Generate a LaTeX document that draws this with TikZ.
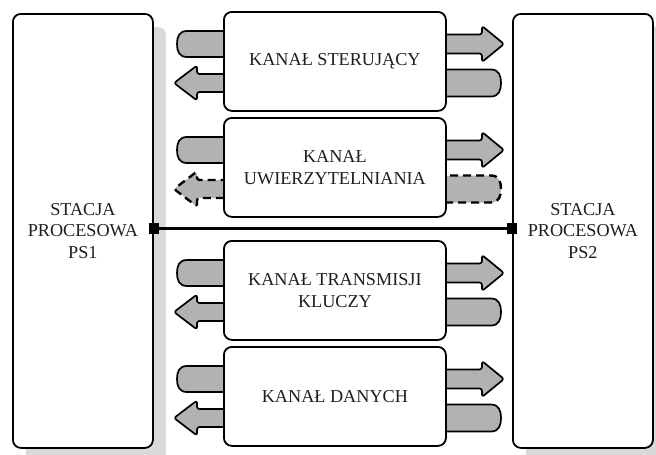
\documentclass[tikz,border=0pt]{standalone}
\usepackage{fontspec}
\setmainfont{Liberation Serif}
\usetikzlibrary{calc,shadows}
\definecolor{shadegray}{RGB}{217,217,217}
\definecolor{bodygray}{RGB}{178,178,178}
\definecolor{inkgray}{RGB}{30,30,30}
\begin{document}
\begin{tikzpicture}[x=1pt,y=-1pt,
  labelfont/.style={font=\fontsize{18.2}{21.5}\selectfont, text=inkgray},
  roundbox/.style={draw, line width=1.8pt, rounded corners=8pt, fill=white,
    anchor=north west, align=center, inner sep=0pt, labelfont},
  station/.style={roundbox, minimum width=140pt, minimum height=434pt,
    drop shadow={shadow xshift=13pt, shadow yshift=-13pt, fill=shadegray, opacity=1}},
  channel/.style={roundbox, minimum width=222pt, minimum height=99pt},
  arrowbody/.style={draw=black, fill=bodygray, line width=1.7pt, line join=round},
  dashbody/.style={arrowbody, line width=2.4pt, dash pattern=on 8pt off 5pt},
  endpoint/.style={fill=black, minimum size=10.5pt, inner sep=0pt},
  link/.style={line width=3.2pt},
  % rounded tail sticking out to the left of a channel
  tailL/.pic={\path[#1] (8,-13) -- (-36,-13) .. controls (-44,-13) and (-46,-7) .. (-46,0)
      .. controls (-46,7) and (-44,13) .. (-36,13) -- (8,13) -- cycle;},
  % rounded tail sticking out to the right of a channel
  tailR/.pic={\path[#1] (-8,-13.5) -- (46,-13.5) .. controls (54,-13.5) and (56,-7) .. (56,0)
      .. controls (56,7) and (54,13.5) .. (46,13.5) -- (-8,13.5) -- cycle;},
  % block arrow pointing left
  arrowL/.pic={\path[#1, rounded corners=2.5pt] (8,-9) -- (-26,-9) -- (-26,-17.5) -- (-49,0)
      -- (-26,17.5) -- (-26,9) -- (8,9) -- cycle;},
  % block arrow pointing right
  arrowR/.pic={\path[#1, rounded corners=2.5pt] (-8,-9.5) -- (37,-9.5) -- (37,-18) -- (59,0)
      -- (37,18) -- (37,9.5) -- (-8,9.5) -- cycle;},
]
\useasboundingbox (0,0) rectangle (656,455);
\clip (0,0) rectangle (656,455);

% processing stations
\node[station] (s1) at (12,13) {STACJA\\PROCESOWA\\PS1};
\node[station] (s2) at (512,13) {STACJA\\PROCESOWA\\PS2};

% channel anchor points
\coordinate (c1) at (223,11);
\coordinate (c2) at (223,117);
\coordinate (c3) at (223,240);
\coordinate (c4) at (223,346);
\coordinate (e1) at (445,11);
\coordinate (e2) at (445,117);
\coordinate (e3) at (445,240);
\coordinate (e4) at (445,346);

% block arrows (drawn below the channel boxes)
\foreach \c/\e in {c1/e1,c3/e3,c4/e4}{
  \pic at ($(\c)+(0,33)$) {tailL=arrowbody};
  \pic at ($(\c)+(0,72)$) {arrowL=arrowbody};
  \pic at ($(\e)+(0,33)$) {arrowR=arrowbody};
  \pic at ($(\e)+(0,72)$) {tailR=arrowbody};
}
\pic at ($(c2)+(0,33)$) {tailL=arrowbody};
\pic at ($(c2)+(0,72)$) {arrowL=dashbody};
\pic at ($(e2)+(0,33)$) {arrowR=arrowbody};
\pic at ($(e2)+(0,72)$) {tailR=dashbody};

% channels
\node[channel] (k1) at (c1) {KANAŁ STERUJĄCY};
\node[channel] (k2) at (c2) {KANAŁ\\UWIERZYTELNIANIA};
\node[channel] (k3) at (c3) {KANAŁ TRANSMISJI\\KLUCZY};
\node[channel] (k4) at (c4) {KANAŁ DANYCH};

% link between the stations
\node[endpoint] (p1) at (s1.east |- 0,228.5) {};
\node[endpoint] (p2) at (s2.west |- 0,228.5) {};
\draw[link] (p1) -- (p2);
\end{tikzpicture}
\end{document}
